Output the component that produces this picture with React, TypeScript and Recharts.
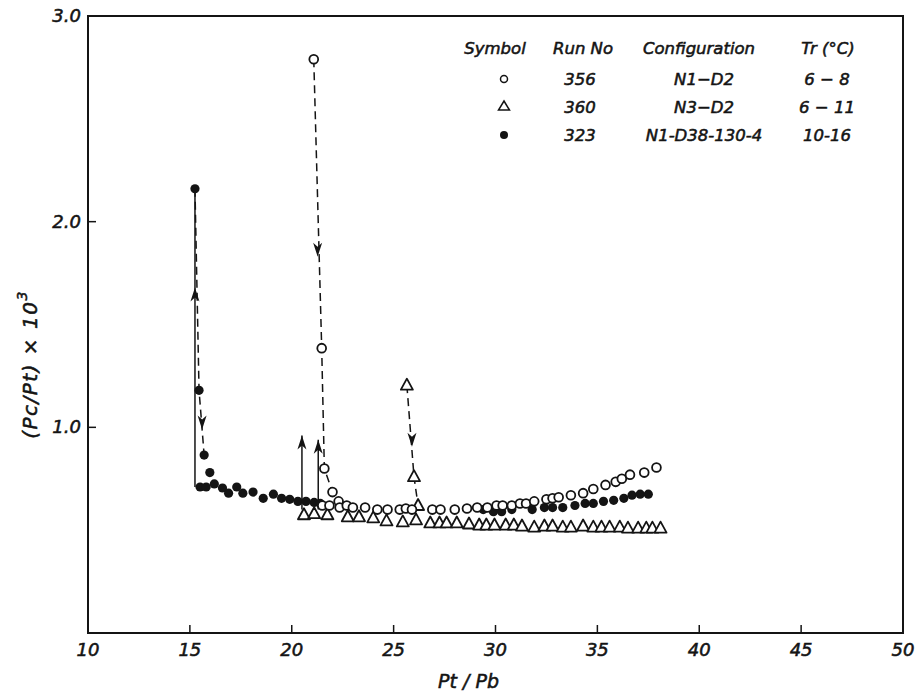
import React from "react";
import { ScatterChart, Scatter, XAxis, YAxis, ReferenceArea } from "recharts";

const INK = "#141414";
const FONT = "'DejaVu Sans', 'Liberation Sans', sans-serif";

const xTicks = [10, 15, 20, 25, 30, 35, 40, 45, 50];
const yTicks = [1, 2, 3];

// Run 356 (N1-D2), open circles
const run356 = [
  { x: 21.08, y: 2.79 }, { x: 21.47, y: 1.385 }, { x: 21.6, y: 0.8 }, { x: 22.0, y: 0.685 },
  { x: 21.5, y: 0.62 }, { x: 21.85, y: 0.62 }, { x: 22.3, y: 0.64 }, { x: 22.35, y: 0.61 },
  { x: 22.7, y: 0.62 }, { x: 23.0, y: 0.61 }, { x: 23.6, y: 0.61 }, { x: 24.2, y: 0.6 },
  { x: 24.7, y: 0.6 }, { x: 25.3, y: 0.6 }, { x: 25.6, y: 0.605 }, { x: 25.9, y: 0.6 },
  { x: 26.9, y: 0.6 }, { x: 27.3, y: 0.6 }, { x: 28.0, y: 0.6 }, { x: 28.6, y: 0.605 },
  { x: 29.1, y: 0.61 }, { x: 29.6, y: 0.61 }, { x: 30.05, y: 0.62 }, { x: 30.35, y: 0.62 },
  { x: 30.8, y: 0.62 }, { x: 31.2, y: 0.63 }, { x: 31.5, y: 0.63 }, { x: 31.9, y: 0.64 },
  { x: 32.5, y: 0.65 }, { x: 32.8, y: 0.655 }, { x: 33.1, y: 0.66 }, { x: 33.7, y: 0.67 },
  { x: 34.3, y: 0.68 }, { x: 34.8, y: 0.7 }, { x: 35.4, y: 0.72 }, { x: 35.9, y: 0.735 },
  { x: 36.2, y: 0.75 }, { x: 36.6, y: 0.77 }, { x: 37.3, y: 0.78 }, { x: 37.9, y: 0.805 },
];

// Run 360 (N3-D2), open triangles
const run360 = [
  { x: 25.65, y: 1.205 }, { x: 26.0, y: 0.76 }, { x: 26.2, y: 0.62 },
  { x: 20.6, y: 0.575 }, { x: 21.1, y: 0.58 }, { x: 21.75, y: 0.575 }, { x: 22.75, y: 0.565 },
  { x: 23.3, y: 0.565 }, { x: 24.0, y: 0.56 }, { x: 24.65, y: 0.545 }, { x: 25.45, y: 0.54 },
  { x: 26.1, y: 0.55 }, { x: 26.8, y: 0.535 }, { x: 27.25, y: 0.535 }, { x: 27.6, y: 0.535 },
  { x: 28.1, y: 0.535 }, { x: 28.7, y: 0.53 }, { x: 29.2, y: 0.525 }, { x: 29.55, y: 0.525 },
  { x: 29.95, y: 0.525 }, { x: 30.5, y: 0.525 }, { x: 30.9, y: 0.525 }, { x: 31.3, y: 0.52 },
  { x: 31.9, y: 0.515 }, { x: 32.4, y: 0.52 }, { x: 32.8, y: 0.52 }, { x: 33.3, y: 0.515 },
  { x: 33.7, y: 0.515 }, { x: 34.3, y: 0.52 }, { x: 34.8, y: 0.515 }, { x: 35.2, y: 0.515 },
  { x: 35.6, y: 0.515 }, { x: 36.1, y: 0.515 }, { x: 36.5, y: 0.51 }, { x: 37.0, y: 0.51 },
  { x: 37.4, y: 0.51 }, { x: 37.7, y: 0.51 }, { x: 38.1, y: 0.51 },
];

// Run 323 (N1-D38-130-4), filled circles
const run323 = [
  { x: 15.25, y: 2.16 }, { x: 15.45, y: 1.18 }, { x: 15.7, y: 0.865 }, { x: 15.98, y: 0.78 },
  { x: 15.5, y: 0.71 }, { x: 15.8, y: 0.71 }, { x: 16.2, y: 0.725 }, { x: 16.6, y: 0.705 },
  { x: 16.9, y: 0.68 }, { x: 17.3, y: 0.71 }, { x: 17.6, y: 0.68 }, { x: 18.1, y: 0.685 },
  { x: 18.6, y: 0.655 }, { x: 19.1, y: 0.675 }, { x: 19.5, y: 0.655 }, { x: 19.9, y: 0.65 },
  { x: 20.3, y: 0.64 }, { x: 20.7, y: 0.64 }, { x: 21.1, y: 0.635 }, { x: 21.4, y: 0.63 },
  { x: 29.4, y: 0.6 }, { x: 29.9, y: 0.59 }, { x: 30.3, y: 0.59 }, { x: 30.8, y: 0.6 },
  { x: 31.8, y: 0.6 }, { x: 32.4, y: 0.61 }, { x: 32.8, y: 0.61 }, { x: 33.3, y: 0.61 },
  { x: 33.9, y: 0.62 }, { x: 34.4, y: 0.63 }, { x: 34.8, y: 0.63 }, { x: 35.3, y: 0.64 },
  { x: 35.8, y: 0.645 }, { x: 36.3, y: 0.655 }, { x: 36.7, y: 0.67 }, { x: 37.1, y: 0.675 },
  { x: 37.5, y: 0.675 },
];

// traces joining the transient points
const rise323 = [{ x: 15.25, y: 0.71 }, { x: 15.25, y: 2.16 }];
const drop323 = [{ x: 15.25, y: 2.16 }, { x: 15.45, y: 1.18 }, { x: 15.7, y: 0.865 }];
const drop356 = [{ x: 21.08, y: 2.79 }, { x: 21.47, y: 1.385 }, { x: 21.6, y: 0.8 }, { x: 22.0, y: 0.685 }];
const drop360 = [{ x: 25.65, y: 1.205 }, { x: 26.0, y: 0.76 }, { x: 26.2, y: 0.62 }];
const riseA = [{ x: 20.5, y: 0.6 }, { x: 20.5, y: 0.96 }];
const riseB = [{ x: 21.3, y: 0.6 }, { x: 21.3, y: 0.94 }];

const arrowHeads = [
  { x: 15.25, y: 1.68, dir: "up" },
  { x: 15.6, y: 0.99, dir: "down" },
  { x: 21.27, y: 1.83, dir: "down" },
  { x: 25.9, y: 0.905, dir: "down" },
  { x: 20.5, y: 0.96, dir: "up" },
  { x: 21.3, y: 0.94, dir: "up" },
];

const legendRows = [
  { symbol: "circle", run: "356", config: "N1−D2", temp: "6 − 8" },
  { symbol: "triangle", run: "360", config: "N3−D2", temp: "6 − 11" },
  { symbol: "dot", run: "323", config: "N1-D38-130-4", temp: "10-16" },
];

// heavier italic text, close to the lettering of the original
const txt = {
  fontFamily: FONT,
  fontStyle: "italic",
  fill: INK,
  stroke: INK,
  strokeWidth: 0.55,
} as any;

const OpenCircle = (p: any) => (
  <circle cx={p.cx} cy={p.cy} r={4.4} fill="#fff" stroke={INK} strokeWidth={1.8} />
);
const OpenTriangle = (p: any) => (
  <path
    d={`M${p.cx},${p.cy - 6.5} L${p.cx + 6},${p.cy + 4.5} L${p.cx - 6},${p.cy + 4.5} Z`}
    fill="#fff"
    stroke={INK}
    strokeWidth={1.8}
    strokeLinejoin="round"
  />
);
const FilledDot = (p: any) => <circle cx={p.cx} cy={p.cy} r={4.6} fill={INK} />;
const Nothing = () => <g />;

const ArrowHead = (p: any) => {
  const s = p.payload.dir === "up" ? 1 : -1;
  const { cx, cy } = p;
  return (
    <path
      d={`M${cx},${cy} L${cx + 4.5},${cy + s * 14} L${cx},${cy + s * 10} L${cx - 4.5},${cy + s * 14} Z`}
      fill={INK}
    />
  );
};

const XTick = (p: any) => (
  <g>
    <line x1={p.x} y1={p.y} x2={p.x} y2={p.y - 8} stroke={INK} strokeWidth={1.5} />
    <text {...txt} x={p.x} y={p.y + 23} textAnchor="middle" fontSize={18}>
      {p.payload.value}
    </text>
  </g>
);

const YTick = (p: any) => (
  <g>
    <line x1={p.x} y1={p.y} x2={p.x + 8} y2={p.y} stroke={INK} strokeWidth={1.5} />
    <text {...txt} x={p.x - 7} y={p.y + 6} textAnchor="end" fontSize={18}>
      {p.payload.value.toFixed(1)}
    </text>
  </g>
);

const XLabel = (p: any) => {
  const vb = p.viewBox;
  return (
    <text {...txt} x={vb.x + vb.width / 2 - 27} y={vb.y + 55} textAnchor="middle" fontSize={19}>
      Pt / Pb
    </text>
  );
};

const YLabel = (p: any) => {
  const vb = p.viewBox;
  const cx = 30;
  const cy = vb.y + vb.height / 2 + 40;
  return (
    <text
      {...txt}
      x={cx}
      y={cy}
      transform={`rotate(-90 ${cx} ${cy})`}
      textAnchor="middle"
      dominantBaseline="central"
      fontSize={20}
      letterSpacing={1.5}
    >
      (Pc/Pt) × 10<tspan dy={-8} fontSize={14}>3</tspan>
    </text>
  );
};

function LegendTable() {
  const t = { ...txt, fontSize: 16.5, textAnchor: "middle" } as any;
  const rowY = [85, 113, 141];
  return (
    <svg width={920} height={693} style={{ position: "absolute", left: 0, top: 0, pointerEvents: "none" }}>
      <text {...t} x={495} y={54}>Symbol</text>
      <text {...t} x={583} y={54}>Run No</text>
      <text {...t} x={699} y={54}>Configuration</text>
      <text {...t} x={828} y={54}>Tr (°C)</text>
      {legendRows.map((r, i) => {
        const y = rowY[i];
        const sy = y - 6;
        return (
          <g key={r.run}>
            {r.symbol === "circle" && <circle cx={504} cy={sy} r={3.5} fill="#fff" stroke={INK} strokeWidth={1.5} />}
            {r.symbol === "triangle" && (
              <path d={`M504,${sy - 6} L509.5,${sy + 3} L498.5,${sy + 3} Z`} fill="#fff" stroke={INK} strokeWidth={1.5} />
            )}
            {r.symbol === "dot" && <circle cx={504} cy={sy} r={4} fill={INK} />}
            <text {...t} x={580} y={y}>{r.run}</text>
            <text {...t} x={704} y={y}>{r.config}</text>
            <text {...t} x={827} y={y}>{r.temp}</text>
          </g>
        );
      })}
    </svg>
  );
}

export default function App() {
  const traceLine = (dashed: boolean) => ({
    stroke: INK,
    strokeWidth: 1.5,
    strokeDasharray: dashed ? "8 5" : undefined,
  });
  return (
    <div style={{ position: "absolute", left: 0, top: 0, width: 920, height: 693, background: "#fff" }}>
      <ScatterChart width={920} height={693} margin={{ top: 16, right: 17, bottom: 0, left: 0 }}>
        <XAxis
          type="number"
          dataKey="x"
          domain={[10, 50]}
          ticks={xTicks}
          allowDataOverflow
          height={60}
          tickSize={0}
          tickMargin={0}
          tickLine={false}
          axisLine={{ stroke: INK, strokeWidth: 2 }}
          tick={<XTick />}
          label={XLabel}
        />
        <YAxis
          type="number"
          dataKey="y"
          domain={[0, 3]}
          ticks={yTicks}
          allowDataOverflow
          width={88}
          tickSize={0}
          tickMargin={0}
          tickLine={false}
          axisLine={{ stroke: INK, strokeWidth: 2 }}
          tick={<YTick />}
          label={YLabel}
        />
        <ReferenceArea x1={10} x2={50} y1={0} y2={3} fill="none" stroke={INK} strokeWidth={2} ifOverflow="visible" />

        <Scatter data={rise323} line={traceLine(false)} shape={Nothing} isAnimationActive={false} />
        <Scatter data={drop323} line={traceLine(true)} shape={Nothing} isAnimationActive={false} />
        <Scatter data={drop356} line={traceLine(true)} shape={Nothing} isAnimationActive={false} />
        <Scatter data={drop360} line={traceLine(true)} shape={Nothing} isAnimationActive={false} />
        <Scatter data={riseA} line={traceLine(false)} shape={Nothing} isAnimationActive={false} />
        <Scatter data={riseB} line={traceLine(false)} shape={Nothing} isAnimationActive={false} />

        <Scatter data={run360} shape={OpenTriangle} isAnimationActive={false} />
        <Scatter data={run323} shape={FilledDot} isAnimationActive={false} />
        <Scatter data={run356} shape={OpenCircle} isAnimationActive={false} />
        <Scatter data={arrowHeads} shape={ArrowHead} isAnimationActive={false} />
      </ScatterChart>
      <LegendTable />
    </div>
  );
}
